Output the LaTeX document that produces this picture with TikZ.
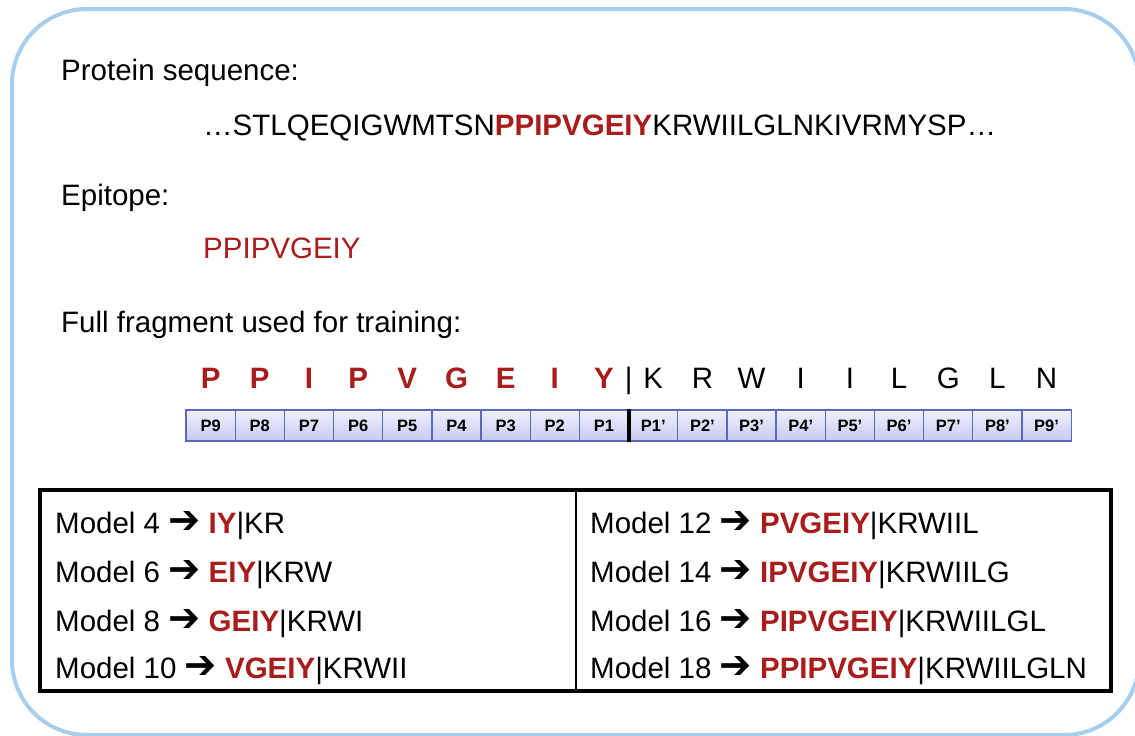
\documentclass[tikz,border=0pt]{standalone}
\usepackage{fontspec}
\setmainfont{Liberation Sans}
\newfontfamily\arrowfont{DejaVu Sans}
\usetikzlibrary{positioning}
\definecolor{epired}{RGB}{168,28,28}
\definecolor{framebl}{RGB}{168,206,238}
\definecolor{boxtop}{RGB}{240,240,255}
\definecolor{boxbot}{RGB}{200,202,240}
\definecolor{boxline}{RGB}{90,104,190}
\newcommand{\bigtext}{\fontsize{29.5}{35}\selectfont}
\newcommand{\modelline}[3]{Model #1 \raisebox{-0.5pt}{\scalebox{1.3}[1.35]{\arrowfont\bfseries ➔}} \textcolor{epired}{\textbf{#2}}|#3}
\tikzset{
  txt/.style={anchor=base west, inner sep=0pt, font=\bigtext},
  res/.style={anchor=base, inner sep=0pt, font=\bigtext},
  hit/.style={res, text=epired, font=\bigtext\bfseries},
  posbox/.style={draw=boxline, line width=1.3pt, top color=boxtop, bottom color=boxbot,
    minimum width=49.17pt, minimum height=31pt, inner sep=0pt,
    font=\fontsize{16.5}{18}\selectfont\bfseries}
}
\begin{document}
\begin{tikzpicture}[x=1pt,y=-1pt]
      \useasboundingbox (0,0) rectangle (1135,736);
      \begin{scope}
        \clip (0,0) rectangle (1135,736);
        \draw[framebl, line width=4pt, rounded corners=75pt] (12,9) rectangle (1139,735);
      \end{scope}
      % headings and sequences
      \node[txt] (head1) at (61,80) {Protein sequence:};
      \node[txt] (seq) at (203,135) {…STLQEQIGWMTSN\textcolor{epired}{\textbf{PPIPVGEIY}}KRWIILGLNKIVRMYSP…};
      \node[txt] (head2) at (61,205) {Epitope:};
      \node[txt, text=epired] (epi) at (203,258) {PPIPVGEIY};
      \node[txt] (head3) at (61,332) {Full fragment used for training:};
      % residues of the fragment
      \node[hit] (r1) at (210.6,388) {P};
      \node[hit] (r2) at (259.8,388) {P};
      \node[hit] (r3) at (309.0,388) {I};
      \node[hit] (r4) at (358.1,388) {P};
      \node[hit] (r5) at (407.3,388) {V};
      \node[hit] (r6) at (456.5,388) {G};
      \node[hit] (r7) at (505.7,388) {E};
      \node[hit] (r8) at (554.8,388) {I};
      \node[hit] (r9) at (604.0,388) {Y};
      \node[res] (cut) at (628.6,388) {|};
      \node[res] (s1) at (653.2,388) {K};
      \node[res] (s2) at (702.4,388) {R};
      \node[res] (s3) at (751.5,388) {W};
      \node[res] (s4) at (800.7,388) {I};
      \node[res] (s5) at (849.9,388) {I};
      \node[res] (s6) at (899.1,388) {L};
      \node[res] (s7) at (948.3,388) {G};
      \node[res] (s8) at (997.4,388) {L};
      \node[res] (s9) at (1046.6,388) {N};
      % position boxes
      \node[posbox] (p9) at (210.6,425.5) {P9};
      \node[posbox] (p8) at (259.8,425.5) {P8};
      \node[posbox] (p7) at (309.0,425.5) {P7};
      \node[posbox] (p6) at (358.1,425.5) {P6};
      \node[posbox] (p5) at (407.3,425.5) {P5};
      \node[posbox] (p4) at (456.5,425.5) {P4};
      \node[posbox] (p3) at (505.7,425.5) {P3};
      \node[posbox] (p2) at (554.8,425.5) {P2};
      \node[posbox] (p1) at (604.0,425.5) {P1};
      \node[posbox] (q1) at (653.2,425.5) {P1’};
      \node[posbox] (q2) at (702.4,425.5) {P2’};
      \node[posbox] (q3) at (751.5,425.5) {P3’};
      \node[posbox] (q4) at (800.7,425.5) {P4’};
      \node[posbox] (q5) at (849.9,425.5) {P5’};
      \node[posbox] (q6) at (899.1,425.5) {P6’};
      \node[posbox] (q7) at (948.3,425.5) {P7’};
      \node[posbox] (q8) at (997.4,425.5) {P8’};
      \node[posbox] (q9) at (1046.6,425.5) {P9’};
      \draw[line width=4pt] (p1.north east) -- (p1.south east);
      % model table
      \node[draw, line width=3.5pt, minimum width=1071pt, minimum height=201pt, inner sep=0pt] (table) at (575.5,590.5) {};
      \draw[line width=1.5pt] ([xshift=0.5pt]table.north) -- ([xshift=0.5pt]table.south);
      \node[txt] (m4) at (55,533) {\modelline{4}{IY}{KR}};
      \node[txt] (m6) at (55,582) {\modelline{6}{EIY}{KRW}};
      \node[txt] (m8) at (55,631) {\modelline{8}{GEIY}{KRWI}};
      \node[txt] (m10) at (55,678) {\modelline{10}{VGEIY}{KRWII}};
      \node[txt] (m12) at (590,533) {\modelline{12}{PVGEIY}{KRWIIL}};
      \node[txt] (m14) at (590,582) {\modelline{14}{IPVGEIY}{KRWIILG}};
      \node[txt] (m16) at (590,631) {\modelline{16}{PIPVGEIY}{KRWIILGL}};
      \node[txt] (m18) at (590,678) {\modelline{18}{PPIPVGEIY}{KRWIILGLN}};
    \end{tikzpicture}
\end{document}
